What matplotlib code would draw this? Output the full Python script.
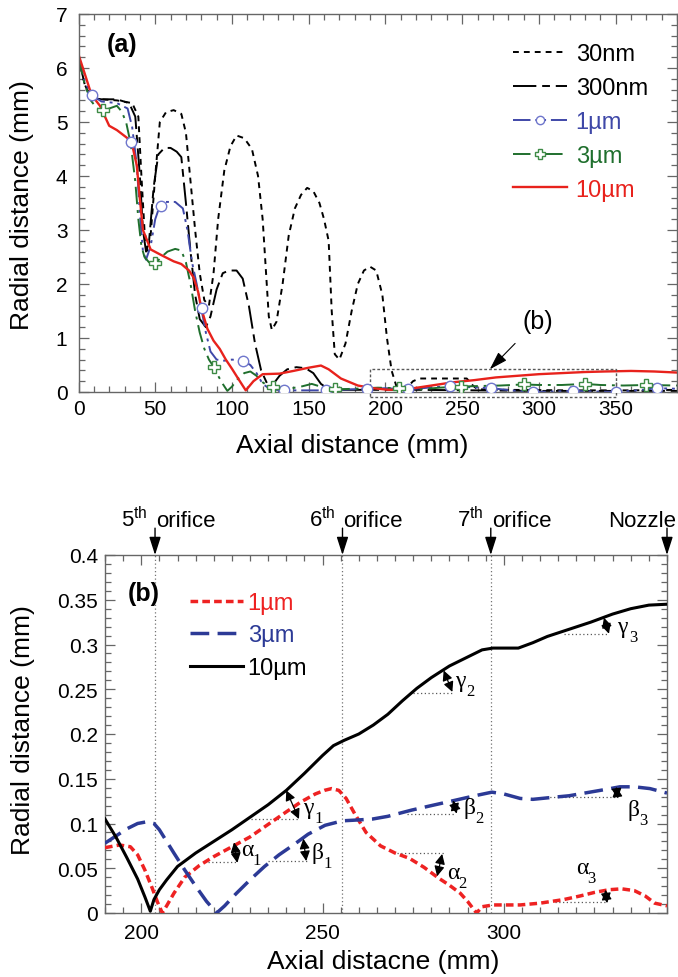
import matplotlib
matplotlib.use('Agg')
import matplotlib.pyplot as plt
from matplotlib.lines import Line2D
from matplotlib.patches import Rectangle
from matplotlib.ticker import MultipleLocator

plt.rcParams['font.family'] = ['Liberation Sans', 'DejaVu Sans']
plt.rcParams['mathtext.fontset'] = 'custom'
plt.rcParams['mathtext.rm'] = 'Liberation Sans'
plt.rcParams['mathtext.it'] = 'Liberation Sans:italic'
plt.rcParams['mathtext.bf'] = 'Liberation Sans:bold'

# ---------------- panel (a) data ----------------
a_30nm_x = [0, 4, 8, 15, 25, 35, 39, 41, 43, 45, 47, 50, 53, 57, 62, 67, 70, 73, 76, 79, 82, 85, 88, 91, 95, 99,
            103, 108, 113, 117, 120, 122, 124, 126, 129, 133, 137, 141, 145, 149, 153, 157, 160, 163, 165, 167,
            170, 174, 178, 182, 186, 190, 194, 198, 201, 204, 207, 210, 214, 218, 222, 240, 253, 257, 260, 280,
            320, 360, 390]
a_30nm_y = [6.2, 5.7, 5.45, 5.42, 5.4, 5.35, 5.1, 4.0, 3.0, 2.6, 2.9, 4.0, 5.0, 5.18, 5.22, 5.15, 4.8, 3.9, 3.0,
            2.2, 1.7, 1.6, 2.2, 3.2, 4.1, 4.55, 4.75, 4.7, 4.5, 4.0, 3.2, 2.3, 1.4, 1.15, 1.3, 2.0, 2.9, 3.4,
            3.65, 3.78, 3.72, 3.5, 3.2, 2.8, 1.5, 0.7, 0.6, 0.9, 1.5, 2.0, 2.25, 2.32, 2.25, 1.8, 1.0, 0.4,
            0.12, 0.06, 0.08, 0.2, 0.25, 0.25, 0.25, 0.12, 0.05, 0.04, 0.03, 0.03, 0.04]

a_300nm_x = [0, 4, 8, 15, 25, 33, 37, 40, 42, 44, 46, 49, 52, 56, 60, 64, 67, 70, 73, 76, 79, 83, 86, 90, 94, 98,
             103, 107, 111, 115, 119, 123, 127, 131, 136, 142, 148, 153, 158, 163, 170, 190, 220, 260, 300, 340, 390]
a_300nm_y = [6.2, 5.7, 5.45, 5.42, 5.42, 5.35, 5.1, 4.0, 3.0, 2.6, 2.8, 3.8, 4.4, 4.52, 4.52, 4.45, 4.35, 3.5,
             2.6, 1.8, 1.35, 1.2, 1.4, 1.9, 2.2, 2.25, 2.25, 2.1, 1.6, 0.9, 0.4, 0.15, 0.15, 0.3, 0.42, 0.46,
             0.44, 0.35, 0.15, 0.05, 0.04, 0.04, 0.04, 0.03, 0.02, 0.02, 0.02]

a_1um_x = [0, 4, 8.5, 15, 25, 32, 35, 38, 40, 42, 44, 47, 50, 53, 57, 63, 68, 71, 74, 77, 80, 83, 86, 90, 95,
           100, 107, 112, 116, 120, 125, 133, 160, 188, 200, 215, 228, 242, 255, 269, 282, 296, 310, 322.5,
           336, 350, 364, 377, 390]
a_1um_y = [6.2, 5.75, 5.5, 5.38, 5.35, 5.25, 4.9, 4.2, 3.3, 2.6, 2.45, 2.7, 3.2, 3.45, 3.52, 3.52, 3.4, 3.0,
           2.4, 2.0, 1.55, 1.1, 0.75, 0.6, 0.58, 0.6, 0.58, 0.5, 0.35, 0.15, 0.05, 0.03, 0.03, 0.06, 0.07,
           0.05, 0.08, 0.11, 0.09, 0.07, 0.03, 0.0, 0.01, 0.02, 0.01, 0.0, 0.03, 0.07, 0.06]
a_1um_mx = [8.5, 34.5, 54, 80.5, 107, 134, 161, 188, 215, 242, 269, 296, 322.5, 350, 377]
a_1um_my = [5.5, 4.63, 3.45, 1.55, 0.58, 0.03, 0.03, 0.06, 0.05, 0.11, 0.07, 0.0, 0.02, 0.0, 0.07]

a_3um_x = [0, 4, 8, 12, 16, 20, 25, 28, 31, 34, 37, 39, 41, 43, 46, 50, 54, 58, 63, 67, 70, 73, 76, 79, 82, 85,
           88, 91, 94, 97, 100, 104, 108, 112, 116, 120, 124, 127, 135, 145, 152, 160, 168, 180, 195, 209,
           220, 235, 249, 260, 275, 290, 300, 315, 330, 340, 355, 370, 390]
a_3um_y = [6.2, 5.7, 5.4, 5.25, 5.22, 5.25, 5.3, 5.2, 5.0, 4.6, 3.9, 3.2, 2.7, 2.5, 2.4, 2.38, 2.5, 2.6, 2.65,
           2.62, 2.4, 2.0, 1.5, 1.1, 0.8, 0.6, 0.47, 0.3, 0.15, 0.02, 0.1, 0.25, 0.35, 0.38, 0.3, 0.18, 0.1,
           0.08, 0.05, 0.1, 0.15, 0.08, 0.05, 0.06, 0.08, 0.07, 0.04, 0.08, 0.1, 0.11, 0.12, 0.14, 0.13,
           0.13, 0.15, 0.13, 0.12, 0.13, 0.12]
a_3um_mx = [16, 50, 88, 127, 167, 209, 249, 290, 330, 370]
a_3um_my = [5.22, 2.38, 0.47, 0.1, 0.06, 0.07, 0.1, 0.14, 0.15, 0.13]

a_10um_x = [0, 4, 8.5, 14, 20, 25, 31, 34.5, 38, 40, 42, 47, 55, 62, 67, 72, 75, 78, 80, 84, 88, 92, 96, 100,
            104, 109, 114, 120, 131, 140, 150, 158, 163, 171, 182, 192, 202, 216, 230, 244, 258, 272, 286,
            300, 315, 330, 343, 360, 375, 390]
a_10um_y = [6.25, 5.9, 5.5, 5.3, 4.93, 4.85, 4.72, 4.64, 4.19, 3.57, 3.0, 2.64, 2.52, 2.42, 2.37, 2.25, 2.12,
            1.85, 1.55, 1.17, 0.95, 0.8, 0.6, 0.43, 0.25, 0.03, 0.2, 0.33, 0.34, 0.39, 0.45, 0.49, 0.42,
            0.25, 0.12, 0.07, 0.04, 0.06, 0.12, 0.18, 0.22, 0.27, 0.3, 0.33, 0.35, 0.37, 0.38, 0.39, 0.38, 0.36]

a_labels = ['30nm', '300nm', '1\u00b5m', '3\u00b5m', '10\u00b5m']
a_xticks = [0, 50, 100, 150, 200, 250, 300, 350]
a_yticks = [0, 1, 2, 3, 4, 5, 6, 7]
a_box = [190, 350, -0.1, 0.42]   # x0, x1, y0, y1 of zoom box

# ---------------- panel (b) data ----------------
b_1um_x = [190, 194, 197, 199, 201, 203, 204.5, 205.8, 207, 209, 212, 216, 220, 225, 230, 235, 240, 244, 248,
           250.5, 252.5, 254.5, 256.5, 259, 262, 266, 270, 274, 278, 282, 285, 288, 290, 291.5, 292.5, 294,
           297, 304.5, 310, 316.5, 321, 325, 329, 332.5, 336, 339, 341.6, 345]
b_1um_y = [0.073, 0.076, 0.074, 0.065, 0.048, 0.028, 0.012, 0.0, 0.008, 0.022, 0.04, 0.053, 0.063, 0.074,
           0.085, 0.099, 0.113, 0.124, 0.133, 0.137, 0.139, 0.137, 0.128, 0.11, 0.09, 0.075, 0.067, 0.061,
           0.051, 0.039, 0.031, 0.022, 0.013, 0.005, 0.0, 0.007, 0.009, 0.009, 0.011, 0.015, 0.019, 0.023,
           0.026, 0.027, 0.025, 0.019, 0.011, 0.008]

b_3um_x = [190, 193, 196, 199, 201.6, 203.5, 205, 207, 209, 212, 215, 218, 220.8, 223, 226, 230, 234, 238,
           242.3, 246, 250.7, 255.5, 260, 263.8, 268, 274.6, 280, 286.6, 292, 296.7, 300, 304.5, 308, 312.9,
           318, 323.7, 328, 332, 336, 340.3, 345]
b_3um_y = [0.078, 0.086, 0.094, 0.1, 0.102, 0.1, 0.093, 0.08, 0.067, 0.048, 0.03, 0.013, 0.0, 0.008, 0.021,
           0.037, 0.052, 0.065, 0.077, 0.088, 0.098, 0.103, 0.104, 0.105, 0.108, 0.115, 0.12, 0.126, 0.131,
           0.135, 0.133, 0.128, 0.127, 0.129, 0.131, 0.135, 0.138, 0.141, 0.141, 0.139, 0.134]

b_10um_x = [190, 193, 196, 199, 201, 202.5, 203.5, 205, 207, 210, 215, 220, 225, 230, 235, 240, 245, 250, 253,
            256, 260, 264, 268, 272, 276, 280, 285, 290, 294, 297, 300, 304, 308, 312, 318, 324, 330, 335,
            340, 345]
b_10um_y = [0.105, 0.085, 0.062, 0.038, 0.018, 0.002, 0.015, 0.026, 0.037, 0.052, 0.067, 0.08, 0.093, 0.107,
            0.121, 0.137, 0.156, 0.176, 0.187, 0.193, 0.2, 0.21, 0.222, 0.237, 0.251, 0.263, 0.276, 0.286,
            0.294, 0.296, 0.296, 0.296, 0.302, 0.309, 0.317, 0.325, 0.334, 0.34, 0.344, 0.345]

b_labels = ['1\u00b5m', '3\u00b5m', '10\u00b5m']
b_xticks = [200, 250, 300]
b_yticks = [0, 0.05, 0.1, 0.15, 0.2, 0.25, 0.3, 0.35, 0.4]
b_yticklabels = ['0', '0.05', '0.1', '0.15', '0.2', '0.25', '0.3', '0.35', '0.4']

orifice_x = [203.8, 255.5, 296.4]
orifice_num = ['5', '6', '7']
nozzle_x = 345

# angle annotations
angle_greek = ['\u03b1', '\u03b2', '\u03b3', '\u03b1', '\u03b2', '\u03b3', '\u03b1', '\u03b2', '\u03b3']
angle_sub = ['1', '1', '1', '2', '2', '2', '3', '3', '3']
angle_arrow_from = [(225.6, 0.079), (244.7, 0.083), (240.0, 0.137), (283.0, 0.066), (286.0, 0.126),
                    (283.4, 0.271), (328.0, 0.026), (331.0, 0.141), (327.6, 0.330)]
angle_arrow_to = [(226.5, 0.056), (245.5, 0.058), (243.5, 0.105), (281.6, 0.041), (287.0, 0.111),
                  (285.8, 0.247), (328.5, 0.011), (331.4, 0.128), (329.0, 0.312)]
angle_ref_x0 = [218.4, 235.0, 230.3, 270.4, 273.4, 275.0, 314.0, 311.7, 316.5]
angle_ref_x1 = [226.8, 245.9, 243.5, 283.6, 286.6, 286.0, 328.4, 331.4, 328.9]
angle_ref_y = [0.057, 0.058, 0.105, 0.067, 0.111, 0.246, 0.012, 0.130, 0.312]
angle_text_pos = [(227.5, 0.071), (247.0, 0.068), (244.6, 0.118), (284.3, 0.045), (288.8, 0.118),
                  (286.5, 0.260), (319.8, 0.051), (334.0, 0.116), (331.2, 0.320)]

# ---------------- figure ----------------
fig = plt.figure(figsize=(6.78, 9.78), dpi=100)
ax1 = fig.add_axes([78.5 / 678, 1 - 393 / 978, 598.5 / 678, 378 / 978])
ax2 = fig.add_axes([105 / 678, 1 - 914 / 978, 562 / 678, 358 / 978])

spine_col = '0.4'
for ax in (ax1, ax2):
    for s in ax.spines.values():
        s.set_color(spine_col)
        s.set_linewidth(1.0)
    ax.tick_params(which='both', direction='in', top=True, right=True, color=spine_col, width=0.9)
    ax.tick_params(which='major', length=7, labelsize=15)
    ax.tick_params(which='minor', length=4)

# panel (a)
c_blue = '#3f48a8'
c_blue_m = '#6f76cc'
c_green = '#1f6f2d'
c_red = '#e8221c'
ls_30 = (0, (3, 2.6))
ls_300 = (0, (12, 3, 4, 3))
ls_1 = (0, (9, 2.5, 1.5, 2.5, 1.5, 2.5))
ls_3 = (0, (9, 3, 1.5, 3))

ax1.plot(a_30nm_x, a_30nm_y, color='k', lw=1.4, ls=ls_30)
ax1.plot(a_300nm_x, a_300nm_y, color='k', lw=1.4, ls=ls_300)
ax1.plot(a_1um_x, a_1um_y, color=c_blue, lw=1.4, ls=ls_1)
ax1.plot(a_3um_x, a_3um_y, color=c_green, lw=1.4, ls=ls_3)
ax1.plot(a_10um_x, a_10um_y, color=c_red, lw=1.7, ls='-')
ax1.plot(a_1um_mx, a_1um_my, ls='none', marker='o', ms=7.5, mfc='white', mec=c_blue_m, mew=1.0, zorder=5)
ax1.plot(a_3um_mx, a_3um_my, ls='none', marker='P', ms=8, mfc='white', mec='#3d8a45', mew=1.0, zorder=5)

ax1.add_patch(Rectangle((a_box[0], a_box[2]), a_box[1] - a_box[0], a_box[3] - a_box[2], fill=False,
                        ec='0.35', lw=1.0, ls=(0, (2, 1.5)), clip_on=False, zorder=4))
ax1.annotate('(b)', xy=(268, a_box[3]), xytext=(299, 1.32), fontsize=18, ha='center', va='center',
             arrowprops=dict(arrowstyle='-|>,head_length=0.8,head_width=0.25', color='k', lw=0.8,
                             mutation_scale=14, shrinkA=8, shrinkB=0))

ax1.set_xlim(0, 390)
ax1.set_ylim(0, 7)
ax1.set_xticks(a_xticks)
ax1.set_yticks(a_yticks)
ax1.xaxis.set_minor_locator(MultipleLocator(10))
ax1.yaxis.set_minor_locator(MultipleLocator(0.2))
ax1.tick_params(axis='x', pad=5)
ax1.tick_params(axis='y', pad=8)
ax1.text(0.048, 0.92, '(a)', transform=ax1.transAxes, fontsize=18, fontweight='bold', ha='left', va='center')

h_a = [Line2D([], [], color='k', lw=1.4, ls=ls_30),
       Line2D([], [], color='k', lw=1.4, ls=ls_300),
       Line2D([], [], color=c_blue, lw=1.4, ls=ls_1, marker='o', ms=6, mfc='white', mec=c_blue_m),
       Line2D([], [], color=c_green, lw=1.4, ls=ls_3, marker='P', ms=7, mfc='white', mec='#3d8a45'),
       Line2D([], [], color=c_red, lw=1.7)]
leg1 = ax1.legend(h_a, a_labels, loc='upper left', bbox_to_anchor=(0.726, 0.922), frameon=False, fontsize=17,
                  handlelength=2.3, handletextpad=0.35, labelspacing=0.5, borderpad=0, borderaxespad=0,
                  numpoints=1)
for t, c in zip(leg1.get_texts(), ['k', 'k', c_blue, c_green, c_red]):
    t.set_color(c)

# panel (b)
b_red = '#ee2222'
b_blue = '#2c3a96'
ls_b1 = (0, (2.2, 1.2))
ls_b3 = (0, (5.4, 2.4))
for xo in orifice_x:
    ax2.plot([xo, xo], [0, 0.4], color='0.45', lw=0.9, ls=(0, (1, 2)))
ax2.plot(b_1um_x, b_1um_y, color=b_red, lw=2.5, ls=ls_b1, zorder=3)
ax2.plot(b_3um_x, b_3um_y, color=b_blue, lw=2.5, ls=ls_b3, zorder=3)
ax2.plot(b_10um_x, b_10um_y, color='k', lw=2.2, ls='-', zorder=3)

for g, sub, p0, p1, rx0, rx1, ry, tp in zip(angle_greek, angle_sub, angle_arrow_from, angle_arrow_to,
                                            angle_ref_x0, angle_ref_x1, angle_ref_y, angle_text_pos):
    ax2.plot([rx0, rx1], [ry, ry], color='0.35', lw=0.9, ls=(0, (1, 2)), zorder=2)
    ax2.annotate('', xy=p1, xytext=p0,
                 arrowprops=dict(arrowstyle='<|-|>,head_length=0.5,head_width=0.25', color='k', lw=0.9,
                                 mutation_scale=12, shrinkA=0, shrinkB=0), zorder=4)
    ax2.text(tp[0], tp[1], g, fontsize=17, family='Liberation Serif', ha='left', va='center')
    ax2.annotate(sub, xy=tp, xytext=(8.5, -7.5), textcoords='offset points', fontsize=12,
                 family='Liberation Serif', ha='left', va='center')

ax2.set_xlim(190, 345)
ax2.set_ylim(0, 0.4)
ax2.set_xticks(b_xticks)
ax2.set_yticks(b_yticks)
ax2.set_yticklabels(b_yticklabels)
ax2.xaxis.set_minor_locator(MultipleLocator(5))
ax2.yaxis.set_minor_locator(MultipleLocator(0.01))
ax2.tick_params(axis='x', pad=7)
ax2.tick_params(axis='y', pad=5)

arrow_kw = dict(arrowstyle='-|>,head_length=1.0,head_width=0.32', color='k', lw=1.0, mutation_scale=11,
                shrinkA=0, shrinkB=0)
for xo, num in zip(orifice_x, orifice_num):
    ax2.annotate('', xy=(xo, 0.4), xytext=(xo, 0.43), arrowprops=arrow_kw, annotation_clip=False)
    ax2.text(xo - 2.0, 0.432, num + '$^{\\rm th}$', fontsize=16, ha='right', va='baseline', clip_on=False)
    ax2.text(xo + 0.3, 0.432, 'orifice', fontsize=16, ha='left', va='baseline', clip_on=False)
ax2.annotate('', xy=(nozzle_x, 0.4), xytext=(nozzle_x, 0.43), arrowprops=arrow_kw, annotation_clip=False)
ax2.text(nozzle_x + 2.6, 0.432, 'Nozzle', fontsize=16, ha='right', va='baseline', clip_on=False)

ax2.text(0.04, 0.895, '(b)', transform=ax2.transAxes, fontsize=18, fontweight='bold', ha='left', va='center')
h_b = [Line2D([], [], color=b_red, lw=2.5, ls=ls_b1),
       Line2D([], [], color=b_blue, lw=2.5, ls=ls_b3),
       Line2D([], [], color='k', lw=2.2)]
leg2 = ax2.legend(h_b, b_labels, loc='upper left', bbox_to_anchor=(0.151, 0.897), frameon=False, fontsize=17,
                  handlelength=2.25, handletextpad=0.2, labelspacing=0.45, borderpad=0, borderaxespad=0)
for t, c in zip(leg2.get_texts(), [b_red, b_blue, 'k']):
    t.set_color(c)

# axis labels
fig.text(352 / 678, 1 - 446 / 978, 'Axial distance (mm)', fontsize=19, ha='center', va='center')
fig.text(22 / 678, 1 - 205 / 978, 'Radial distance (mm)', fontsize=19, ha='center', va='center', rotation=90)
fig.text(383 / 678, 1 - 962 / 978, 'Axial distacne (mm)', fontsize=19, ha='center', va='center')
fig.text(23 / 678, 1 - 730 / 978, 'Radial distance (mm)', fontsize=19, ha='center', va='center', rotation=90)

fig.savefig('out.png', dpi=100)
